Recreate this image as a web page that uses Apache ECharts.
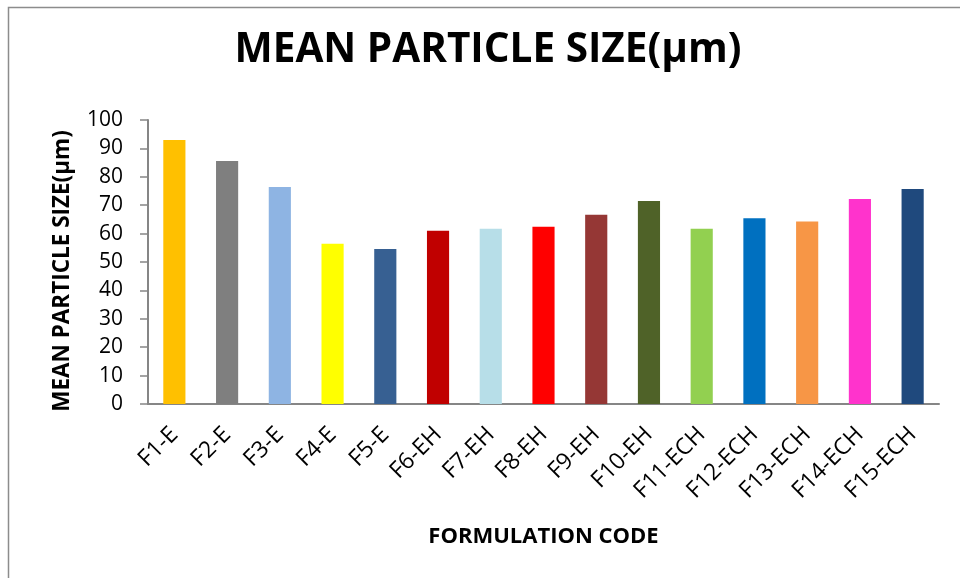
<!DOCTYPE html>
<html>
<head>
<meta charset="utf-8">
<script src="https://cdn.jsdelivr.net/npm/echarts@6/dist/echarts.min.js"></script>
<style>
html,body{margin:0;padding:0;background:#fff;}
#chart{width:960px;height:578px;}
</style>
</head>
<body>
<div id="chart"></div>
<script>
const categories = ['F1-E','F2-E','F3-E','F4-E','F5-E','F6-EH','F7-EH','F8-EH','F9-EH','F10-EH','F11-ECH','F12-ECH','F13-ECH','F14-ECH','F15-ECH'];
const values = [93.0, 85.6, 76.4, 56.4, 54.6, 61.0, 61.7, 62.4, 66.6, 71.5, 61.7, 65.4, 64.3, 72.2, 75.7];
const barColors = ['#FFC000','#7F7F7F','#8EB4E3','#FFFF00','#376092','#C00000','#B7DEE8','#FF0000','#953735','#4F6228','#92D050','#0070C0','#F79646','#FF33CC','#1F497D'];
const yTicks = [0,10,20,30,40,50,60,70,80,90,100];

const chart = echarts.init(document.getElementById('chart'), null, {renderer:'canvas'});
const axisGray = '#868686';
chart.setOption({
  animation:false,
  backgroundColor:'#fff',
  title:{
    text:'MEAN PARTICLE SIZE(µm)',
    left:488, top:30, textAlign:'center',
    textStyle:{fontFamily:'Open Sans', fontWeight:'bold', fontSize:40.5, color:'#000'},
    padding:0, itemGap:0
  },
  graphic:[{type:'rect', shape:{x:8.5,y:7.5,width:1000,height:1000}, style:{fill:'none', stroke:'#8c8c8c', lineWidth:1.5}, silent:true}],
  grid:{left:148, right:21, top:120, bottom:174, containLabel:false},
  xAxis:{
    type:'category',
    data:categories,
    name:'FORMULATION CODE',
    nameLocation:'middle',
    nameGap:122,
    nameTextStyle:{fontFamily:'Open Sans', fontWeight:'bold', fontSize:22, color:'#000'},
    axisLine:{show:true, lineStyle:{color:axisGray, width:2}},
    axisTick:{show:false},
    axisLabel:{rotate:45, margin:27, fontFamily:'Open Sans', fontSize:23, color:'#000', interval:0}
  },
  yAxis:{
    type:'value',
    min:0, max:100, interval:10,
    name:'MEAN PARTICLE SIZE(µm)',
    nameLocation:'middle',
    nameGap:74,
    nameTextStyle:{fontFamily:'Open Sans', fontWeight:'bold', fontSize:22.5, color:'#000', padding:[0,18,0,0]},
    axisLine:{show:true, lineStyle:{color:axisGray, width:2}},
    axisTick:{show:true, inside:false, length:8, lineStyle:{color:axisGray, width:1.5}},
    splitLine:{show:false},
    axisLabel:{margin:25, fontFamily:'Open Sans', fontSize:21, color:'#000',
      formatter:function(v){ return yTicks.indexOf(v) >= 0 ? String(v) : ''; }}
  },
  series:[{
    type:'bar',
    data:values.map((v,i)=>({value:v, itemStyle:{color:barColors[i]}})),
    barWidth:'42%'
  }]
});
</script>
</body>
</html>
